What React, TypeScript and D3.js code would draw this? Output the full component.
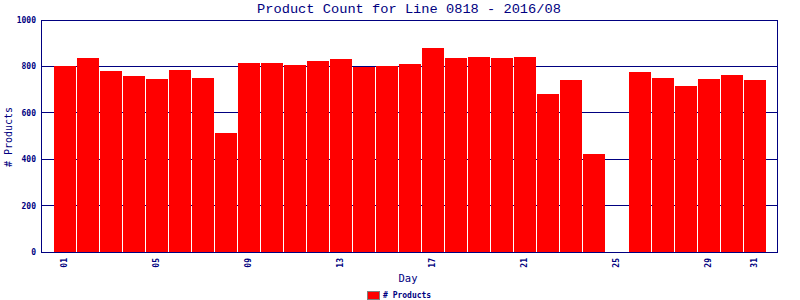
import React from "react";
import * as d3 from "d3";

const days: number[] = Array.from({ length: 31 }, (_, i) => i + 1);
const products: (number | null)[] = [
  800, 836, 780, 759, 746, 784, 750, 513, 815, 815, 806, 823, 832, 797, 801, 810,
  879, 836, 841, 836, 841, 681, 741, 422, null, 776, 750, 716, 746, 763, 741,
];
const xTickDays: number[] = [1, 5, 9, 13, 17, 21, 25, 29, 31];
const yTicks: number[] = [0, 200, 400, 600, 800, 1000];

const W = 800;
const H = 300;
const left = 41;
const right = 777;
const top = 20;
const bottom = 252;
const navy = "#000080";
const mono = "'DejaVu Sans Mono', 'Liberation Mono', monospace";

export default function App() {
  const x = d3.scaleLinear().domain([0, 32]).range([left, right]);
  const y = d3.scaleLinear().domain([0, 1000]).range([bottom, top]);
  const barW = 22;
  return (
    <svg width={W} height={H} style={{ position: "absolute", left: 0, top: 0, background: "#fff" }}>
      <rect x={0} y={0} width={W} height={H} fill="#fff" />
      <text x={(left + right) / 2} y={13} textAnchor="middle" fontFamily="'Liberation Mono', monospace" fontSize={13.7} fill={navy}>
        Product Count for Line 0818 - 2016/08
      </text>
      {yTicks.filter((t) => t > 0 && t < 1000).map((t) => (
        <line key={t} x1={left} x2={right} y1={y(t)} y2={y(t)} stroke={navy} strokeWidth={1} shapeRendering="crispEdges" />
      ))}
      {days.map((d, i) => {
        const v = products[i];
        if (v == null) return null;
        return (
          <rect key={d} x={Math.round(x(d) - barW / 2) + 1} y={Math.round(y(v))} width={barW} height={bottom - Math.round(y(v))} fill="#ff0000" shapeRendering="crispEdges" />
        );
      })}
      <rect x={left} y={top} width={right - left} height={bottom - top} fill="none" stroke={navy} strokeWidth={1} shapeRendering="crispEdges" />
      {yTicks.map((t) => (
        <text key={t} x={36} y={y(t) + 3} textAnchor="end" fontFamily={mono} fontWeight="bold" fontSize={8} fill={navy}>
          {t}
        </text>
      ))}
      {xTickDays.map((d) => (
        <text key={d} transform={`translate(${x(d) + 3},${258}) rotate(-90)`} textAnchor="end" fontFamily={mono} fontWeight="bold" fontSize={8} fill={navy}>
          {String(d).padStart(2, "0")}
        </text>
      ))}
      <text x={408} y={282} textAnchor="middle" fontFamily={mono} fontSize={10.5} fill={navy}>
        Day
      </text>
      <text transform={`translate(12,137) rotate(-90)`} textAnchor="middle" fontFamily={mono} fontSize={10} fill={navy}>
        # Products
      </text>
      <rect x={367.5} y={291.5} width={12} height={8} fill="#ff0000" stroke="#808080" strokeWidth={1} />
      <text x={383} y={298} fontFamily={mono} fontWeight="bold" fontSize={8} fill={navy}>
        # Products
      </text>
    </svg>
  );
}
